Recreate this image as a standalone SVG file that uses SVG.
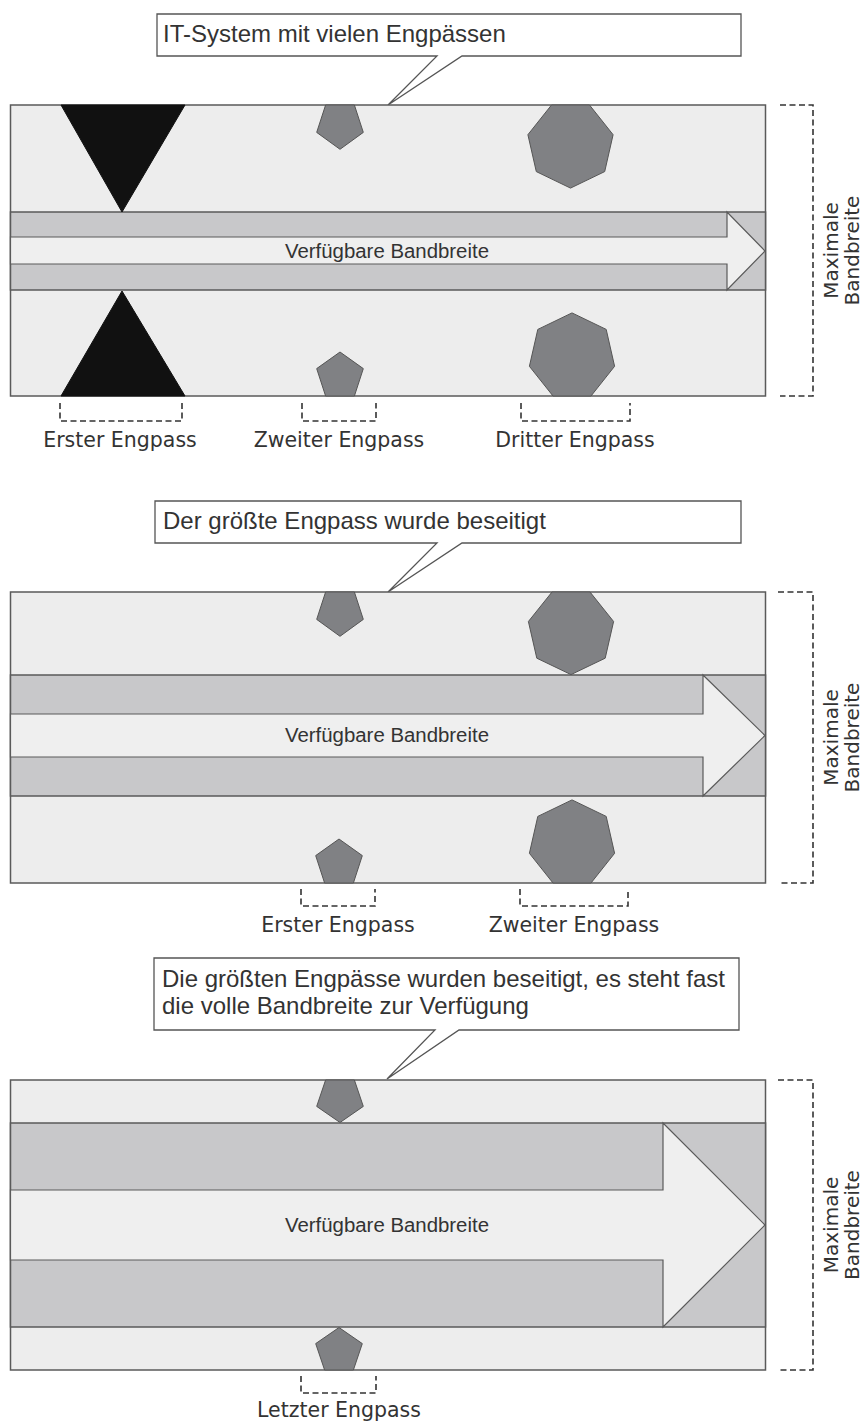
<svg xmlns="http://www.w3.org/2000/svg" width="864" height="1421" viewBox="0 0 864 1421">
<style>
.bg{fill:#ffffff}
.callout{fill:#ffffff;stroke:#555555;stroke-width:1.3}
.ctext{font-family:"Liberation Sans",Arial,sans-serif;font-size:24px;fill:#333333}
.panel{fill:#ededed;stroke:#5a5a5a;stroke-width:1.5}
.band{fill:#c8c8ca;stroke:#5a5a5a;stroke-width:1.5}
.arrow{fill:#efefef;stroke:#5a5a5a;stroke-width:1.2;stroke-linejoin:miter}
.atext{font-family:"Liberation Sans",Arial,sans-serif;font-size:20px;fill:#333333;text-anchor:middle}
.poly{fill:#808184;stroke:#555555;stroke-width:1}
.tri{fill:#111111;stroke:#111111;stroke-width:1}
.br{fill:none;stroke:#333333;stroke-width:1.6;stroke-dasharray:6,3.5}
.lbl{font-family:"DejaVu Sans",Verdana,sans-serif;font-size:20.5px;fill:#333333;text-anchor:middle}
.vlbl{font-family:"DejaVu Sans",Verdana,sans-serif;font-size:20px;fill:#333333;text-anchor:middle}
</style>
<rect class="bg" x="0" y="0" width="864" height="1421"/>

<!-- ===== Panel 1 ===== -->
<g id="callout1">
<path class="callout" d="M157,14 H741 V56 H462 L388,105 L437,56 H157 Z"/>
<text class="ctext" x="163" y="42">IT-System mit vielen Engpässen</text>
</g>
<g id="panel1">
<rect class="panel" x="10.5" y="105" width="755" height="291"/>
<rect class="band" x="10.5" y="212" width="755" height="78"/>
<polygon class="arrow" points="10.5,237 727,237 727,212 765,251 727,290 727,264 10.5,264"/>
<text class="atext" x="387" y="258" textLength="204" lengthAdjust="spacingAndGlyphs">Verfügbare Bandbreite</text>
</g>
<g id="p1-bottleneck1">
<polygon class="tri" points="61,105 185,105 122,212"/>
<polygon class="tri" points="61,396 185,396 122,291"/>
</g>
<g id="p1-bottleneck2">
<polygon class="poly" points="325.6,105 354.4,105 363.3,132.4 340,149.3 316.7,132.4"/>
<polygon class="poly" points="325.6,396 354.4,396 363.3,368.6 340,352 316.7,368.6"/>
</g>
<g id="p1-bottleneck3">
<polygon class="poly" points="551.5,105 589.5,105 613.1,134.7 604.7,171.6 570.5,188.1 536.3,171.6 527.9,134.7"/>
<polygon class="poly" points="553,396 591,396 614.6,366.3 606.2,329.4 572,312.9 537.8,329.4 529.4,366.3"/>
</g>
<g id="p1-max">
<path class="br" d="M780,105 H813 V396 H780"/>
<text class="vlbl" transform="translate(838,250.5) rotate(-90)">Maximale</text>
<text class="vlbl" transform="translate(858.5,250.5) rotate(-90)">Bandbreite</text>
</g>
<g id="p1-labels">
<path class="br" d="M60,403 V421 H182 V403"/>
<path class="br" d="M302,403 V421 H376 V403"/>
<path class="br" d="M521,403 V421 H630 V403"/>
<text class="lbl" x="120" y="447">Erster Engpass</text>
<text class="lbl" x="339" y="447">Zweiter Engpass</text>
<text class="lbl" x="575" y="447">Dritter Engpass</text>
</g>

<!-- ===== Panel 2 ===== -->
<g id="callout2">
<path class="callout" d="M155,501 H741 V543 H462 L388,592 L437,543 H155 Z"/>
<text class="ctext" x="163" y="529">Der größte Engpass wurde beseitigt</text>
</g>
<g id="panel2">
<rect class="panel" x="10.5" y="592" width="755" height="291"/>
<rect class="band" x="10.5" y="675" width="755" height="121"/>
<polygon class="arrow" points="10.5,714 703,714 703,675 765,735.5 703,796 703,757 10.5,757"/>
<text class="atext" x="387" y="742" textLength="204" lengthAdjust="spacingAndGlyphs">Verfügbare Bandbreite</text>
</g>
<g id="p2-bottleneck1">
<polygon class="poly" points="325.6,592 354.4,592 363.3,619.4 340,636.3 316.7,619.4"/>
<polygon class="poly" points="324.6,883 353.4,883 362.3,855.6 339,839 315.7,855.6"/>
</g>
<g id="p2-bottleneck2">
<polygon class="poly" points="552,592 590,592 613.6,621.5 605.2,658.2 571,674.6 536.8,658.2 528.4,621.5"/>
<polygon class="poly" points="553,883 591,883 614.6,853.3 606.2,816.4 572,799.9 537.8,816.4 529.4,853.3"/>
</g>
<g id="p2-max">
<path class="br" d="M778,592 H813 V883 H778"/>
<text class="vlbl" transform="translate(838,737.5) rotate(-90)">Maximale</text>
<text class="vlbl" transform="translate(858.5,737.5) rotate(-90)">Bandbreite</text>
</g>
<g id="p2-labels">
<path class="br" d="M301,889 V906 H375 V889"/>
<path class="br" d="M520,889 V906 H628 V889"/>
<text class="lbl" x="338" y="932">Erster Engpass</text>
<text class="lbl" x="574" y="932">Zweiter Engpass</text>
</g>

<!-- ===== Panel 3 ===== -->
<g id="callout3">
<path class="callout" d="M154,958 H739 V1030 H459 L387,1079 L435,1030 H154 Z"/>
<text class="ctext" x="162" y="987">Die größten Engpässe wurden beseitigt, es steht fast</text>
<text class="ctext" x="162" y="1014">die volle Bandbreite zur Verfügung</text>
</g>
<g id="panel3">
<rect class="panel" x="10.5" y="1080" width="755" height="290"/>
<rect class="band" x="10.5" y="1123" width="755" height="204"/>
<polygon class="arrow" points="10.5,1190 663,1190 663,1123 765,1225 663,1327 663,1260 10.5,1260"/>
<text class="atext" x="387" y="1232" textLength="204" lengthAdjust="spacingAndGlyphs">Verfügbare Bandbreite</text>
</g>
<g id="p3-bottleneck1">
<polygon class="poly" points="325.6,1080 354.4,1080 363.3,1106.4 340,1122.5 316.7,1106.4"/>
<polygon class="poly" points="324.6,1370 353.4,1370 362.3,1343.6 339,1327.5 315.7,1343.6"/>
</g>
<g id="p3-max">
<path class="br" d="M778,1080 H813 V1370 H778"/>
<text class="vlbl" transform="translate(838,1225) rotate(-90)">Maximale</text>
<text class="vlbl" transform="translate(858.5,1225) rotate(-90)">Bandbreite</text>
</g>
<g id="p3-labels">
<path class="br" d="M301,1376 V1393 H376 V1376"/>
<text class="lbl" x="339" y="1417">Letzter Engpass</text>
</g>
<g id="connectors"></g>
</svg>
